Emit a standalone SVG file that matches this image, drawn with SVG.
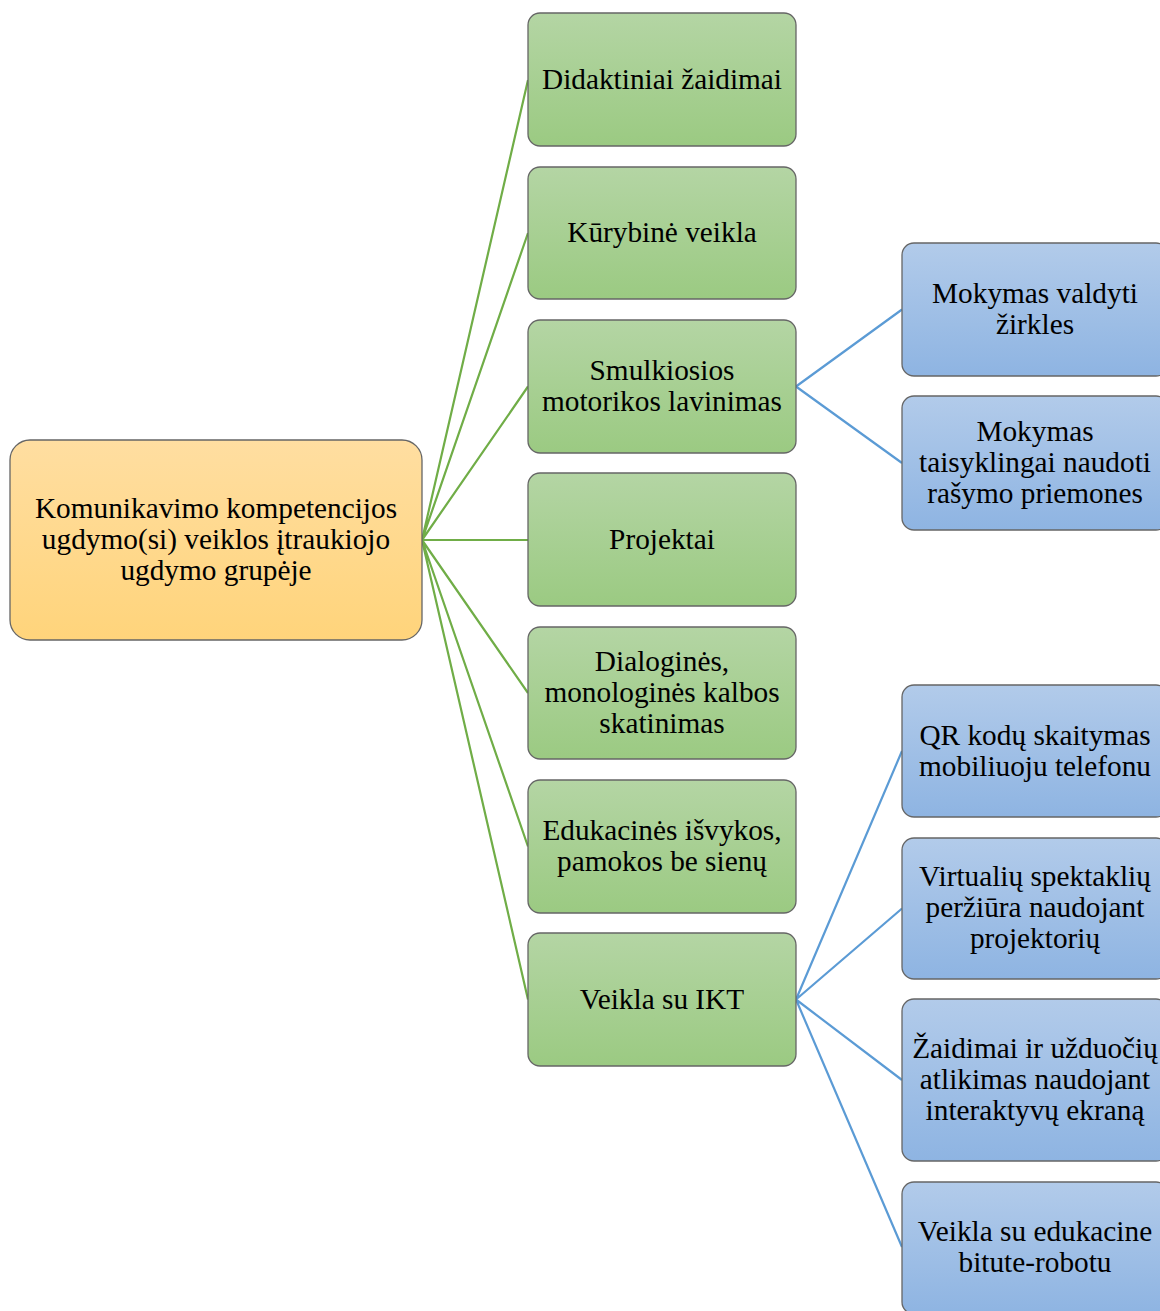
<svg xmlns="http://www.w3.org/2000/svg" width="1160" height="1311" viewBox="0 0 1160 1311">
<defs>
<linearGradient id="gO" x1="0" y1="0" x2="0" y2="1"><stop offset="0" stop-color="#FFDEA1"/><stop offset="1" stop-color="#FFD47B"/></linearGradient>
<linearGradient id="gG" x1="0" y1="0" x2="0" y2="1"><stop offset="0" stop-color="#B4D5A4"/><stop offset="1" stop-color="#9BCA82"/></linearGradient>
<linearGradient id="gB" x1="0" y1="0" x2="0" y2="1"><stop offset="0" stop-color="#B2CBEA"/><stop offset="1" stop-color="#8EB4E2"/></linearGradient>
<style>
.box{stroke:#666;stroke-width:1.3}
.o{fill:url(#gO)}
.g{fill:url(#gG)}
.b{fill:url(#gB)}
text{font-family:"Liberation Serif","Times New Roman",serif;font-size:29.3px;fill:#000;text-anchor:middle}
.lg{stroke:#70AD47;stroke-width:2.2;fill:none}
.lb{stroke:#5B9BD5;stroke-width:2.2;fill:none}
</style>
</defs>
<g id="connectors">
<path class="lg" d="M422 540 L528 80 M422 540 L528 233 M422 540 L528 386.5 M422 540 L528 540 M422 540 L528 693 M422 540 L528 846.5 M422 540 L528 999.5"/>
<path class="lb" d="M796 386.5 L902 309.5 M796 386.5 L902 463 M796 999.5 L902 751 M796 999.5 L902 908.5 M796 999.5 L902 1080 M796 999.5 L902 1247"/>
</g>
<g id="root">
<rect class="box o" x="10" y="440" width="412" height="200" rx="20"/>
<text x="216" y="518">Komunikavimo kompetencijos</text>
<text x="216" y="549">ugdymo(si) veiklos įtraukiojo</text>
<text x="216" y="580">ugdymo grupėje</text>
</g>
<g id="n1"><rect class="box g" x="528" y="13" width="268" height="133" rx="12"/><text x="662" y="89">Didaktiniai žaidimai</text></g>
<g id="n2"><rect class="box g" x="528" y="167" width="268" height="132" rx="12"/><text x="662" y="242">Kūrybinė veikla</text></g>
<g id="n3"><rect class="box g" x="528" y="320" width="268" height="133" rx="12"/><text x="662" y="380">Smulkiosios</text><text x="662" y="411">motorikos lavinimas</text></g>
<g id="n4"><rect class="box g" x="528" y="473" width="268" height="133" rx="12"/><text x="662" y="549">Projektai</text></g>
<g id="n5"><rect class="box g" x="528" y="627" width="268" height="132" rx="12"/><text x="662" y="671">Dialoginės,</text><text x="662" y="702">monologinės kalbos</text><text x="662" y="733">skatinimas</text></g>
<g id="n6"><rect class="box g" x="528" y="780" width="268" height="133" rx="12"/><text x="662" y="840">Edukacinės išvykos,</text><text x="662" y="871">pamokos be sienų</text></g>
<g id="n7"><rect class="box g" x="528" y="933" width="268" height="133" rx="12"/><text x="662" y="1009">Veikla su IKT</text></g>
<g id="b1"><rect class="box b" x="902" y="243" width="266" height="133" rx="12"/><text x="1035" y="303">Mokymas valdyti</text><text x="1035" y="334">žirkles</text></g>
<g id="b2"><rect class="box b" x="902" y="396" width="266" height="134" rx="12"/><text x="1035" y="441">Mokymas</text><text x="1035" y="472">taisyklingai naudoti</text><text x="1035" y="503">rašymo priemones</text></g>
<g id="b3"><rect class="box b" x="902" y="685" width="266" height="132" rx="12"/><text x="1035" y="745">QR kodų skaitymas</text><text x="1035" y="776">mobiliuoju telefonu</text></g>
<g id="b4"><rect class="box b" x="902" y="838" width="266" height="141" rx="12"/><text x="1035" y="886">Virtualių spektaklių</text><text x="1035" y="917">peržiūra naudojant</text><text x="1035" y="948">projektorių</text></g>
<g id="b5"><rect class="box b" x="902" y="999" width="266" height="162" rx="12"/><text x="1035" y="1058">Žaidimai ir užduočių</text><text x="1035" y="1089">atlikimas naudojant</text><text x="1035" y="1120">interaktyvų ekraną</text></g>
<g id="b6"><rect class="box b" x="902" y="1182" width="266" height="132" rx="12"/><text x="1035" y="1241">Veikla su edukacine</text><text x="1035" y="1272">bitute-robotu</text></g>
</svg>
